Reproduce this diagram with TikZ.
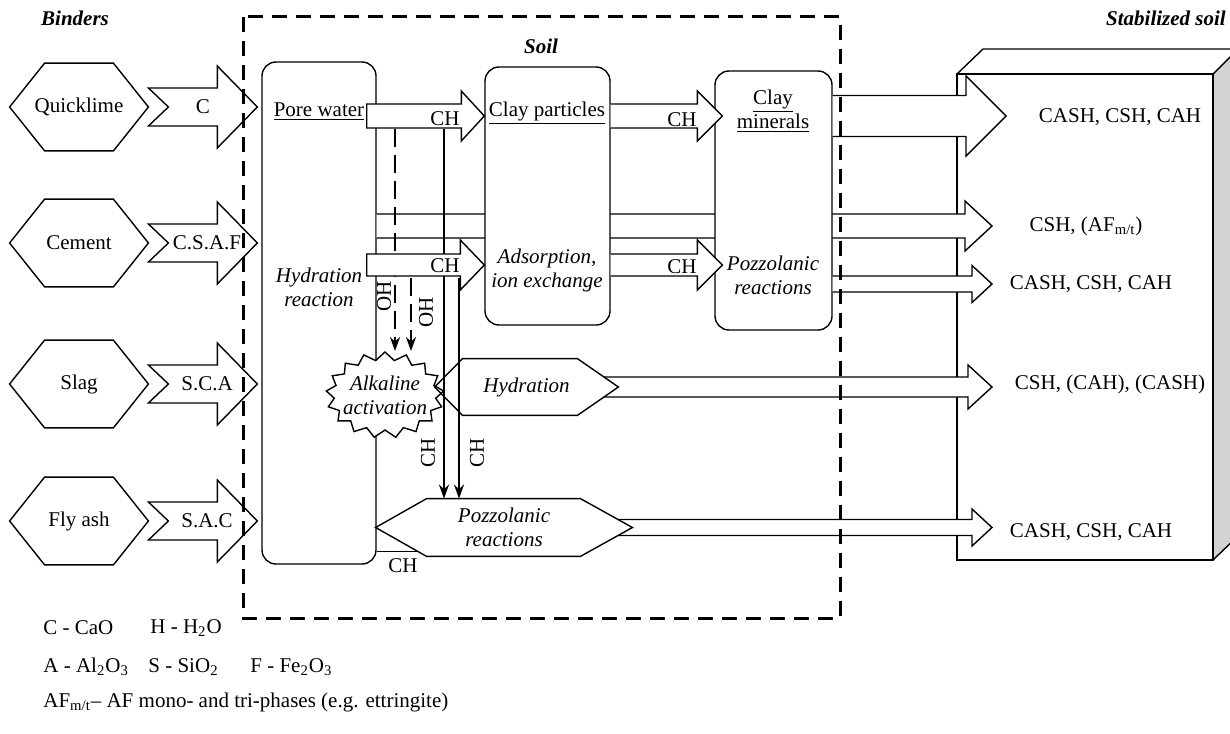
\documentclass[tikz,border=0pt]{standalone}
\usepackage{fontspec}
\setmainfont{Liberation Serif}
\usepackage{tikz}
\usetikzlibrary{arrows.meta,positioning,shapes.symbols,calc}

\newcommand\fatarrow[6]{%
  \draw[blockarr] let \p1=(#1), \p2=(#2) in
    (\x1,{\y1+#3}) -- ({\x2-#5},{\y1+#3}) -- ({\x2-#5},{\y1+#4}) -- (\x2,\y1)
    -- ({\x2-#5},{\y1-#4}) -- ({\x2-#5},{\y1-#3}) -- (\x1,{\y1-#3}) -- ({\x1+#6},\y1) -- cycle;}
\newcommand\openarrow[5]{%
  \fill[white] let \p1=(#1), \p2=(#2) in
    (\x1,{\y1+#3}) -- ({\x2-#5},{\y1+#3}) -- ({\x2-#5},{\y1+#4}) -- (\x2,\y1)
    -- ({\x2-#5},{\y1-#4}) -- ({\x2-#5},{\y1-#3}) -- (\x1,{\y1-#3}) -- cycle;
  \draw[outl] let \p1=(#1), \p2=(#2) in
    (\x1,{\y1+#3}) -- ({\x2-#5},{\y1+#3}) -- ({\x2-#5},{\y1+#4}) -- (\x2,\y1)
    -- ({\x2-#5},{\y1-#4}) -- ({\x2-#5},{\y1-#3}) -- (\x1,{\y1-#3});}
\newcommand\hexline[3]{%
  \draw[outl] (#1.west) -- ([xshift=#2]#1.north west) -- ([xshift=-#3]#1.north east) -- (#1.east)
    -- ([xshift=-#3]#1.south east) -- ([xshift=#2]#1.south west) -- cycle;}

\begin{document}
\begin{tikzpicture}[x=0.5pt, y=-0.5pt, every node/.style={font=\fontsize{10.5}{12}\selectfont}]
\tikzset{outl/.style={draw, line width=0.7pt, line join=miter}}
\tikzset{blockarr/.style={outl, fill=white}}
\tikzset{roundbox/.style={outl, fill=white, rounded corners=7pt, inner sep=0pt}}
\tikzset{hexnode/.style={inner sep=0pt, align=center}}
\tikzset{lbl/.style={inner sep=0pt, align=center}}
\tikzset{itl/.style={lbl, font=\fontsize{10.5}{12}\selectfont\itshape}}
\tikzset{ttl/.style={lbl, font=\fontsize{10.5}{12}\selectfont\bfseries\itshape}}
\tikzset{ohline/.style={line width=1.2pt, dash pattern=on 9pt off 4pt, -{Stealth[length=7pt,width=5pt]}}}
\tikzset{chline/.style={line width=1.2pt, -{Stealth[length=7pt,width=5pt]}}}
\useasboundingbox (0,0) rectangle (1230,733);
\clip (0,0) rectangle (1230,733);

\fill[gray!35] (1213,74) -- (1239,48) -- (1239,535) -- (1213,560) -- cycle;
\draw[outl] (957,74) -- (983,49) -- (1240,49);
\draw[outl] (1213,74) -- (1239,48);
\draw[outl] (1213,560) -- (1239,535);
\draw[outl] (957,74) rectangle (1213,560);

\coordinate (rowA) at (0,116);
\coordinate (rowB) at (0,226);
\coordinate (rowC) at (0,265);
\coordinate (rowD) at (0,284);
\coordinate (outtip) at (992,0);

\node[roundbox, minimum width=57pt, minimum height=251pt] (pore) at (319,313) {};
\openarrow{pore.east|-rowB}{outtip|-rowB}{6pt}{12.5pt}{13.5pt}
\node[roundbox, minimum width=62.5pt, minimum height=129pt] (clayp) at (547.5,196) {};
\node[roundbox, minimum width=58.5pt, minimum height=129.5pt] (claym) at (773.5,200.5) {};

\node[draw, fill=white, line width=0.7pt, starburst, starburst points=17, starburst point height=4pt,
  random starburst=0, inner sep=-3pt, minimum height=43pt, align=center,
  font=\fontsize{10.5}{12}\selectfont\itshape] (alk) at (385,395) {Alkaline\\activation};
\node[hexnode, minimum width=91.5pt, minimum height=28pt, font=\fontsize{10.5}{12}\selectfont\itshape] (hydr) at (526.5,387) {Hydration};
\node[hexnode, minimum width=128pt, minimum height=28.5pt, font=\fontsize{10.5}{12}\selectfont\itshape] (pozz) at (504,527.5) {Pozzolanic\\reactions};

\coordinate (oh1) at (395,129);
\coordinate (oh2) at (411,278);
\coordinate (ch1) at (444,129);
\coordinate (ch2) at (459,278);
\draw[ohline] (oh1) -- (oh1 |- alk.north);
\draw[ohline] (oh2) -- (oh2 |- alk.north);
\draw[chline] (ch1) -- (ch1 |- pozz.north);
\draw[chline] (ch2) -- (ch2 |- pozz.north);

\fatarrow{$(pore.east|-rowA)+(-5pt,0)$}{clayp.west|-rowA}{6pt}{12.5pt}{11.5pt}{0pt}
\fatarrow{$(pore.east|-rowC)+(-5pt,0)$}{clayp.west|-rowC}{5.5pt}{12.5pt}{12pt}{0pt}
\openarrow{clayp.east|-rowA}{$(claym.west|-rowA)+(4pt,0)$}{6pt}{12.5pt}{12.5pt}
\openarrow{clayp.east|-rowC}{$(claym.west|-rowC)+(4pt,0)$}{5.5pt}{12.5pt}{12.5pt}
\openarrow{claym.east|-rowA}{$(outtip|-rowA)+(7pt,0)$}{10.25pt}{20pt}{20pt}
\openarrow{claym.east|-rowD}{outtip|-rowD}{4pt}{9.25pt}{10pt}
\openarrow{$(hydr.east)+(-7.3pt,0)$}{outtip|-hydr.east}{5pt}{11pt}{12pt}
\openarrow{$(pozz.east)+(-7.3pt,0)$}{outtip|-pozz.east}{4pt}{9.25pt}{10pt}
\hexline{hydr}{14pt}{20.5pt}
\hexline{pozz}{25.5pt}{26pt}

\coordinate (pozzin) at ($(pozz.west)!0.82!([xshift=25.5pt]pozz.south west)$);
\draw[outl] (pore.east |- pozzin) -- (pozzin);
\node[lbl] (chpozz) at (403,566) {CH};

\node[hexnode, minimum width=69pt, minimum height=43.5pt] (qlime) at (79,107) {Quicklime};
\node[hexnode, minimum width=69pt, minimum height=43.5pt] (cem) at (79,243) {Cement};
\node[hexnode, minimum width=69pt, minimum height=43.5pt] (slag) at (79,384) {Slag};
\node[hexnode, minimum width=69pt, minimum height=43.5pt] (flyash) at (79,521) {Fly ash};
\hexline{qlime}{17.5pt}{17.5pt}
\hexline{cem}{17.5pt}{17.5pt}
\hexline{slag}{17.5pt}{17.5pt}
\hexline{flyash}{17.5pt}{17.5pt}
\fatarrow{qlime.east}{$(pore.west|-qlime.east)+(-2pt,0)$}{9.5pt}{20.5pt}{20pt}{10pt}
\fatarrow{cem.east}{$(pore.west|-cem.east)+(-2pt,0)$}{9.5pt}{20.5pt}{20pt}{10pt}
\fatarrow{slag.east}{$(pore.west|-slag.east)+(-2pt,0)$}{9.5pt}{20.5pt}{20pt}{10pt}
\fatarrow{flyash.east}{$(pore.west|-flyash.east)+(-2pt,0)$}{9.5pt}{20.5pt}{20pt}{10pt}
\node[lbl] (qlimelbl) at (203,107) {C};
\node[lbl] (cemlbl) at (207,243) {C.S.A.F};
\node[lbl] (slaglbl) at (207,384) {S.C.A};
\node[lbl] (flyashlbl) at (207,521) {S.A.C};

\draw[line width=1.5pt, dash pattern=on 7.5pt off 4.5pt] (243,17) rectangle (840,618);

\node[lbl] (poret) at (319,112) {\underline{Pore water}};
\node[itl] (hydrt) at (319,287) {Hydration\\reaction};
\node[lbl] (claypt) at (547,113) {\underline{Clay particles}};
\node[itl] (adst) at (547,270) {Adsorption,\\ion exchange};
\node[lbl] (claymt) at (773,111) {\underline{Clay}\\\underline{minerals}};
\node[itl] (pozt) at (773,275) {Pozzolanic\\reactions};

\node[lbl] (chA1) at (445,119) {CH};
\node[lbl] (chC1) at (445,266) {CH};
\node[lbl] (chA2) at (682,120) {CH};
\node[lbl] (chC2) at (682,267) {CH};
\node[lbl, rotate=90] (ohl1) at (384,296) {OH};
\node[lbl, rotate=90] (ohl2) at (426,312) {OH};
\node[lbl, rotate=90] (chl1) at (428,453) {CH};
\node[lbl, rotate=90] (chl2) at (477,453) {CH};

\node[lbl] (out1) at (1120,117) {CASH, CSH, CAH};
\node[lbl] (out2) at (1086,226) {CSH, (AF\textsubscript{m/t})};
\node[lbl] (out3) at (1091,284) {CASH, CSH, CAH};
\node[lbl] (out4) at (1110,384) {CSH, (CAH), (CASH)};
\node[lbl] (out5) at (1091,532) {CASH, CSH, CAH};

\node[ttl] (bindt) at (75,18) {Binders};
\node[ttl] (soilt) at (541,46) {Soil};
\node[ttl] (stabt) at (1166,18) {Stabilized soil};

\node[lbl, anchor=west] (legC) at (43,628) {C - CaO};
\node[lbl, anchor=west] (legH) at (150,628) {H - H\textsubscript{2}O};
\node[lbl, anchor=west] (legA) at (43,667) {A - Al\textsubscript{2}O\textsubscript{3}};
\node[lbl, anchor=west] (legS) at (148,667) {S - SiO\textsubscript{2}};
\node[lbl, anchor=west] (legF) at (250,667) {F - Fe\textsubscript{2}O\textsubscript{3}};
\node[lbl, anchor=west] (legAF) at (43,702) {AF\textsubscript{m/t}– AF mono- and tri-phases (e.g. ettringite)};
\end{tikzpicture}
\end{document}
